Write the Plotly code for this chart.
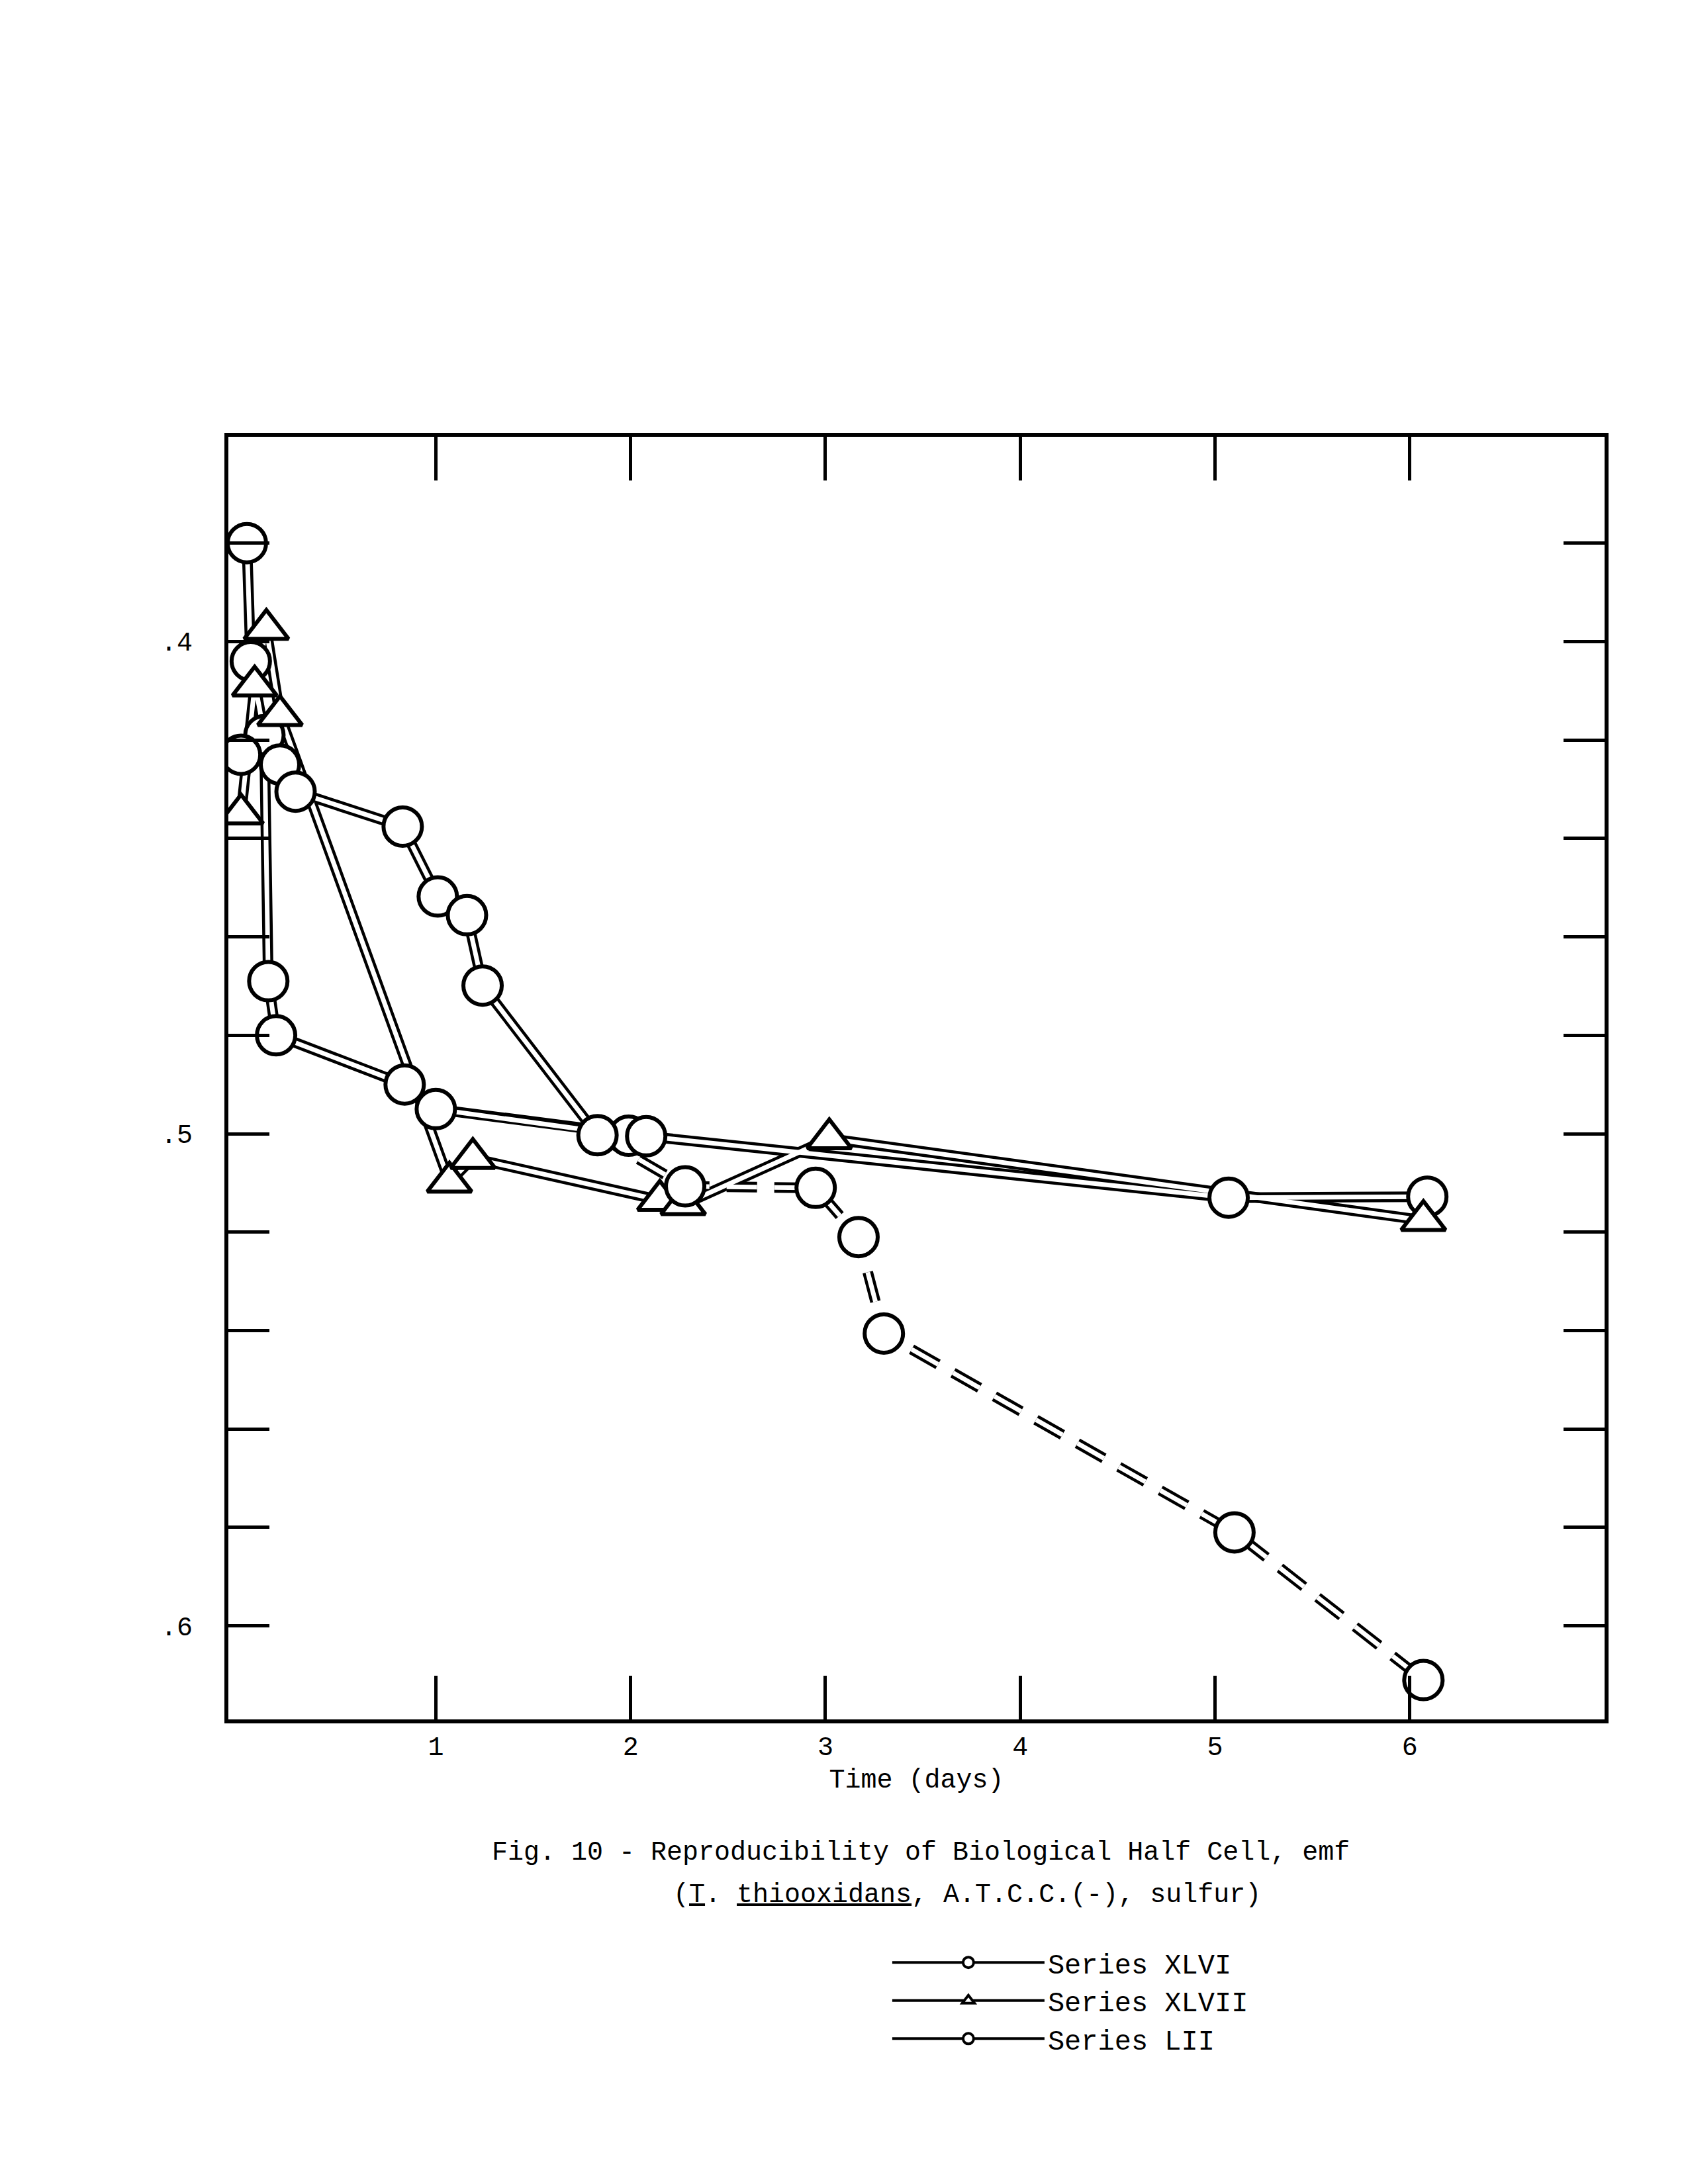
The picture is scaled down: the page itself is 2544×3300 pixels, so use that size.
import plotly.graph_objects as go

# ---- data (time in days, emf in volts) ----
xlvi_t = [0.03, 0.05, 0.12, 0.14, 0.18, 0.84, 1.00, 1.99, 2.08, 5.07, 6.09]
xlvi_e = [0.380, 0.404, 0.419, 0.469, 0.480, 0.490, 0.495, 0.5004, 0.5005, 0.513, 0.5128]

xlvii_t = [0.00, 0.07, 0.13, 0.20, 1.07, 1.19, 2.15, 2.27, 3.02, 6.07]
xlvii_e = [0.435, 0.409, 0.3975, 0.415, 0.5098, 0.505, 0.5135, 0.5144, 0.501, 0.5176]

lii_t = [0.00, 0.20, 0.28, 0.83, 1.01, 1.16, 1.24, 1.83, 2.28, 2.95, 3.17, 3.30, 5.10, 6.07]
lii_e = [0.423, 0.425, 0.4305, 0.4376, 0.4518, 0.4556, 0.4699, 0.5003, 0.5107, 0.511, 0.521, 0.5406, 0.581, 0.611]
lii_split = 7  # index where the dashed portion begins

x_ticks = [1, 2, 3, 4, 5, 6]
x_ticklabels = ["1", "2", "3", "4", "5", "6"]
y_ticks = [0.38, 0.40, 0.42, 0.44, 0.46, 0.48, 0.50, 0.52, 0.54, 0.56, 0.58, 0.60]
y_ticklabels = ["", ".4", "", "", "", "", ".5", "", "", "", "", ".6"]

series_names = ["Series XLVI", "Series XLVII", "Series LII"]

FONT = "Liberation Mono"
OUTER_W = 16
INNER_W = 7
DASH = "46px,26px"

fig = go.Figure()

line_sets = [
    (xlvi_t, xlvi_e, "solid"),
    (xlvii_t, xlvii_e, "solid"),
    (lii_t[:lii_split + 1], lii_e[:lii_split + 1], "solid"),
    (lii_t[lii_split:], lii_e[lii_split:], DASH),
]

# hollow (double) lines: black outer stroke, then white inner stroke
for xs, ys, dash in line_sets:
    fig.add_trace(go.Scatter(x=xs, y=ys, mode="lines", showlegend=False, hoverinfo="skip",
                             line=dict(color="black", width=OUTER_W, dash=dash)))
for xs, ys, dash in line_sets:
    fig.add_trace(go.Scatter(x=xs, y=ys, mode="lines", showlegend=False, hoverinfo="skip",
                             line=dict(color="white", width=INNER_W, dash=dash)))

marker_sets = [
    (xlvi_t, xlvi_e, "circle"),
    (xlvii_t, xlvii_e, "triangle-up"),
    (lii_t, lii_e, "circle"),
]
for xs, ys, sym in marker_sets:
    fig.add_trace(go.Scatter(x=xs, y=ys, mode="markers", showlegend=False,
                             marker=dict(symbol=sym, size=58, color="white",
                                         line=dict(color="black", width=6))))

# legend entries
for name, sym in zip(series_names, ["circle", "triangle-up", "circle"]):
    fig.add_trace(go.Scatter(x=[None], y=[None], mode="lines+markers", name=name,
                             line=dict(color="black", width=4),
                             marker=dict(symbol=sym, size=24, color="white",
                                         line=dict(color="black", width=4))))

fig.update_layout(
    width=2544, height=3300,
    margin=dict(l=345, r=120, t=660, b=702),
    paper_bgcolor="white", plot_bgcolor="white",
    font=dict(family=FONT, color="black", size=40),
    legend=dict(x=0.48, y=-0.172, xanchor="left", yanchor="top",
                font=dict(family=FONT, size=42), itemwidth=230,
                tracegroupgap=0, bgcolor="rgba(0,0,0,0)"),
    annotations=[
        dict(text="Fig. 10 - Reproducibility of Biological Half Cell, emf",
             x=0.503, y=-0.104, xref="paper", yref="paper", showarrow=False,
             font=dict(family=FONT, size=40), xanchor="center", yanchor="middle"),
        dict(text="(<u>T</u>. <u>thiooxidans</u>, A.T.C.C.(-), sulfur)",
             x=0.537, y=-0.137, xref="paper", yref="paper", showarrow=False,
             font=dict(family=FONT, size=40), xanchor="center", yanchor="middle"),
    ],
)

fig.update_xaxes(
    range=[-0.065, 7.0], showgrid=False, zeroline=False,
    showline=True, linecolor="black", linewidth=6, mirror="ticks",
    ticks="inside", ticklen=66, tickwidth=5, tickcolor="black",
    tickvals=x_ticks, ticktext=x_ticklabels,
    tickfont=dict(family=FONT, size=40),
    title=dict(text="Time (days)", font=dict(family=FONT, size=40), standoff=12),
)
fig.update_yaxes(
    range=[0.619, 0.3584], showgrid=False, zeroline=False,
    showline=True, linecolor="black", linewidth=6, mirror="ticks",
    ticks="inside", ticklen=62, tickwidth=5, tickcolor="black",
    tickvals=y_ticks, ticktext=y_ticklabels,
    tickfont=dict(family=FONT, size=40), ticklabelstandoff=40,
)

fig.write_html("out.html")
